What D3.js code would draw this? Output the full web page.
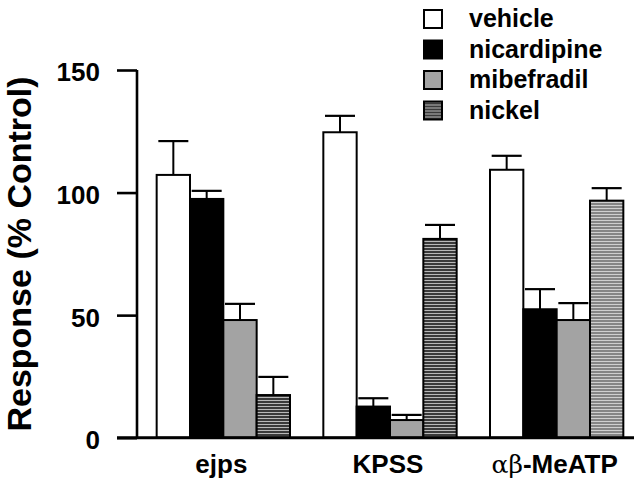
<!DOCTYPE html>
<html>
<head>
<meta charset="utf-8">
<script src="https://cdn.jsdelivr.net/npm/d3@7"></script>
<style>
  html, body { margin: 0; padding: 0; background: #fff; }
  svg { display: block; }
  text { font-family: "Liberation Sans", Arial, Helvetica, sans-serif; font-weight: bold; fill: #000; }
</style>
</head>
<body>
<svg id="chart" width="640" height="489"></svg>
<script>
const categories = ["ejps", "KPSS", "αβ-MeATP"];
const seriesNames = ["vehicle", "nicardipine", "mibefradil", "nickel"];
const vehicle     = [107.2, 124.6, 109.3];
const nicardipine = [97.4, 12.7, 52.4];
const mibefradil  = [48.0, 7.2, 48.0];
const nickel      = [17.4, 81.1, 96.7];
const vehicleErr     = [13.8, 6.7, 5.7];
const nicardipineErr = [3.3, 3.4, 8.2];
const mibefradilErr  = [6.6, 2.1, 6.9];
const nickelErr      = [7.4, 5.7, 5.1];
const yTicks = [0, 50, 100, 150];

const means = [vehicle, nicardipine, mibefradil, nickel];
const errs = [vehicleErr, nicardipineErr, mibefradilErr, nickelErr];

const svg = d3.select("#chart");
const defs = svg.append("defs");

function stripePattern(id, base, line) {
  const p = defs.append("pattern").attr("id", id)
    .attr("patternUnits", "userSpaceOnUse").attr("width", 6).attr("height", 3);
  p.append("rect").attr("width", 6).attr("height", 3).attr("fill", base);
  p.append("rect").attr("y", 1).attr("width", 6).attr("height", 1).attr("fill", line);
}
stripePattern("nickelDark", "#3a3a3a", "#b8b8b8");
stripePattern("nickelLight", "#858585", "#cfcfcf");

const fills = {
  vehicle: () => "#ffffff",
  nicardipine: () => "#000000",
  mibefradil: () => "#a3a3a3",
  nickel: (ci) => ci === 2 ? "url(#nickelLight)" : "url(#nickelDark)"
};

const y = d3.scaleLinear().domain([0, 150]).range([437.7, 70]);
const x0 = d3.scaleBand().domain(categories).range([140, 640]).paddingInner(0.2).paddingOuter(0.1);
const x1 = d3.scaleBand().domain(seriesNames).range([0, x0.bandwidth()]);

const data = [];
categories.forEach((c, ci) => {
  seriesNames.forEach((s, si) => {
    data.push({ c, ci, s, si, v: means[si][ci], e: errs[si][ci] });
  });
});

const g = svg.append("g");

// error bars (behind bars)
const capW = 30;
const eb = g.selectAll("g.err").data(data).enter().append("g").attr("class", "err");
eb.append("line")
  .attr("x1", d => x0(d.c) + x1(d.s) + x1.bandwidth() / 2)
  .attr("x2", d => x0(d.c) + x1(d.s) + x1.bandwidth() / 2)
  .attr("y1", d => y(d.v))
  .attr("y2", d => y(d.v + d.e))
  .attr("stroke", "#000").attr("stroke-width", 2);
eb.append("line")
  .attr("x1", d => x0(d.c) + x1(d.s) + x1.bandwidth() / 2 - capW / 2)
  .attr("x2", d => x0(d.c) + x1(d.s) + x1.bandwidth() / 2 + capW / 2)
  .attr("y1", d => y(d.v + d.e))
  .attr("y2", d => y(d.v + d.e))
  .attr("stroke", "#000").attr("stroke-width", 2.2);

// bars
g.selectAll("rect.bar").data(data).enter().append("rect")
  .attr("class", "bar")
  .attr("x", d => x0(d.c) + x1(d.s))
  .attr("y", d => y(d.v))
  .attr("width", x1.bandwidth())
  .attr("height", d => y(0) - y(d.v))
  .attr("fill", d => fills[d.s](d.ci))
  .attr("stroke", "#000").attr("stroke-width", 2);

// y axis
const yAxis = d3.axisLeft(y).tickValues(yTicks).tickSize(20).tickPadding(17).tickFormat(d3.format("d"));
const ya = svg.append("g").attr("transform", "translate(137,0)").call(yAxis);
ya.select(".domain").attr("stroke", "#000").attr("stroke-width", 2.6).attr("d", `M0,${y(150)}V${y(0)}`);
ya.selectAll(".tick line").attr("stroke", "#000").attr("stroke-width", 2.6);
ya.selectAll(".tick text").style("font-size", "26px").style("font-family", "'Liberation Sans', Arial, sans-serif").style("font-weight", "bold").attr("fill", "#000").attr("dy", "0.42em");

// baseline
svg.append("line").attr("x1", 117).attr("x2", 634).attr("y1", y(0)).attr("y2", y(0))
  .attr("stroke", "#000").attr("stroke-width", 3);

// category labels
svg.selectAll("text.cat").data(categories).enter().append("text")
  .attr("class", "cat")
  .attr("x", d => x0(d) + x0.bandwidth() / 2 - 2)
  .attr("y", 473)
  .attr("text-anchor", "middle")
  .style("font-size", "26px")
  .each(function (d) {
    const t = d3.select(this);
    if (d.startsWith("αβ")) {
      t.append("tspan").style("font-weight", "normal").style("font-family", "'DejaVu Serif', serif").style("font-size", "25px").text("αβ");
      t.append("tspan").text(d.slice(2));
    } else {
      t.text(d);
    }
  });

// y label
svg.append("text")
  .attr("transform", "translate(31,254) rotate(-90)")
  .attr("text-anchor", "middle")
  .style("font-size", "34px")
  .text("Response (% Control)");

// legend
const leg = svg.append("g").selectAll("g").data(seriesNames).enter().append("g")
  .attr("transform", (d, i) => `translate(0,${i * 30.5})`);
leg.append("rect").attr("x", 424).attr("y", 10).attr("width", 18).attr("height", 18)
  .attr("fill", d => fills[d](0)).attr("stroke", "#000").attr("stroke-width", 2);
leg.append("text").attr("x", 469).attr("y", 27).style("font-size", "25px").text(d => d);
</script>
</body>
</html>
